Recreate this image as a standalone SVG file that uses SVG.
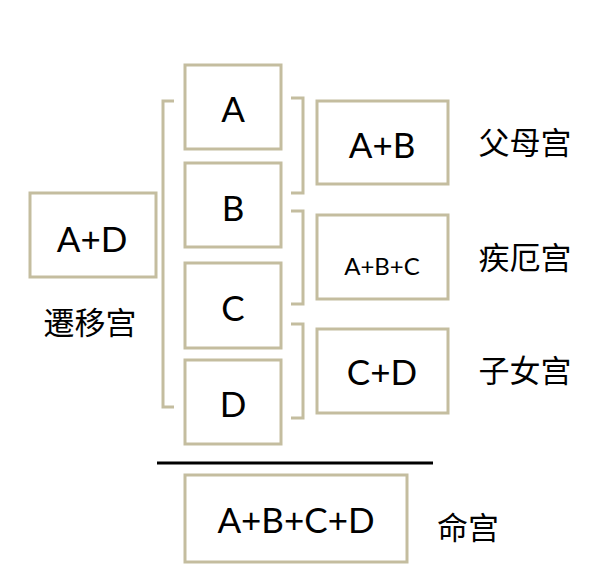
<svg xmlns="http://www.w3.org/2000/svg" width="609" height="586" viewBox="0 0 609 586">
<style>
.box{fill:#ffffff;stroke:#c4bd9f;stroke-width:3}
.br{fill:none;stroke:#c4bd9f;stroke-width:3}
.t{font-family:Lato,"Open Sans","Noto Sans",sans-serif;font-size:35px;fill:#000;text-anchor:middle}
.s{font-family:Lato,"Open Sans","Noto Sans",sans-serif;font-size:24px;fill:#000;text-anchor:middle}
.c{font-family:"Noto Sans CJK SC","Noto Sans CJK TC",sans-serif;font-size:31px;fill:#000;text-anchor:middle}
</style>
<rect width="609" height="586" fill="#ffffff"/>
<g id="connectors">
<path class="br" d="M174,101 H163 V407 H174"/>
<path class="br" d="M291,98 H303 V193 H291"/>
<path class="br" d="M291,211 H303 V304 H291"/>
<path class="br" d="M291,324 H303 V418 H291"/>
<line x1="157" y1="463" x2="433" y2="463" stroke="#000" stroke-width="3"/>
</g>
<g id="nodeA"><rect class="box" x="185" y="65" width="96" height="84"/><text class="t" x="233" y="122">A</text></g>
<g id="nodeB"><rect class="box" x="185" y="163" width="96" height="84"/><text class="t" x="233" y="221">B</text></g>
<g id="nodeC"><rect class="box" x="185" y="263" width="96" height="85"/><text class="t" x="233" y="321">C</text></g>
<g id="nodeD"><rect class="box" x="185" y="360" width="96" height="84"/><text class="t" x="233" y="417">D</text></g>
<g id="nodeAB"><rect class="box" x="317" y="101" width="131" height="83"/><text class="t" x="382" y="158">A+B</text></g>
<g id="nodeABC"><rect class="box" x="317" y="215" width="131" height="84"/><text class="s" x="382" y="275">A+B+C</text></g>
<g id="nodeCD"><rect class="box" x="317" y="329" width="131" height="84"/><text class="t" x="382" y="385">C+D</text></g>
<g id="nodeAD"><rect class="box" x="30" y="193" width="126" height="84"/><text class="t" x="92" y="252">A+D</text></g>
<g id="nodeABCD"><rect class="box" x="185" y="475" width="222" height="87"/><text class="t" x="296" y="533">A+B+C+D</text></g>
<g id="labels">
<text class="c" x="90" y="334">遷移宫</text>
<text class="c" x="525" y="154">父母宫</text>
<text class="c" x="525" y="269">疾厄宫</text>
<text class="c" x="525" y="382">子女宫</text>
<text class="c" x="468" y="539">命宫</text>
</g>
</svg>
